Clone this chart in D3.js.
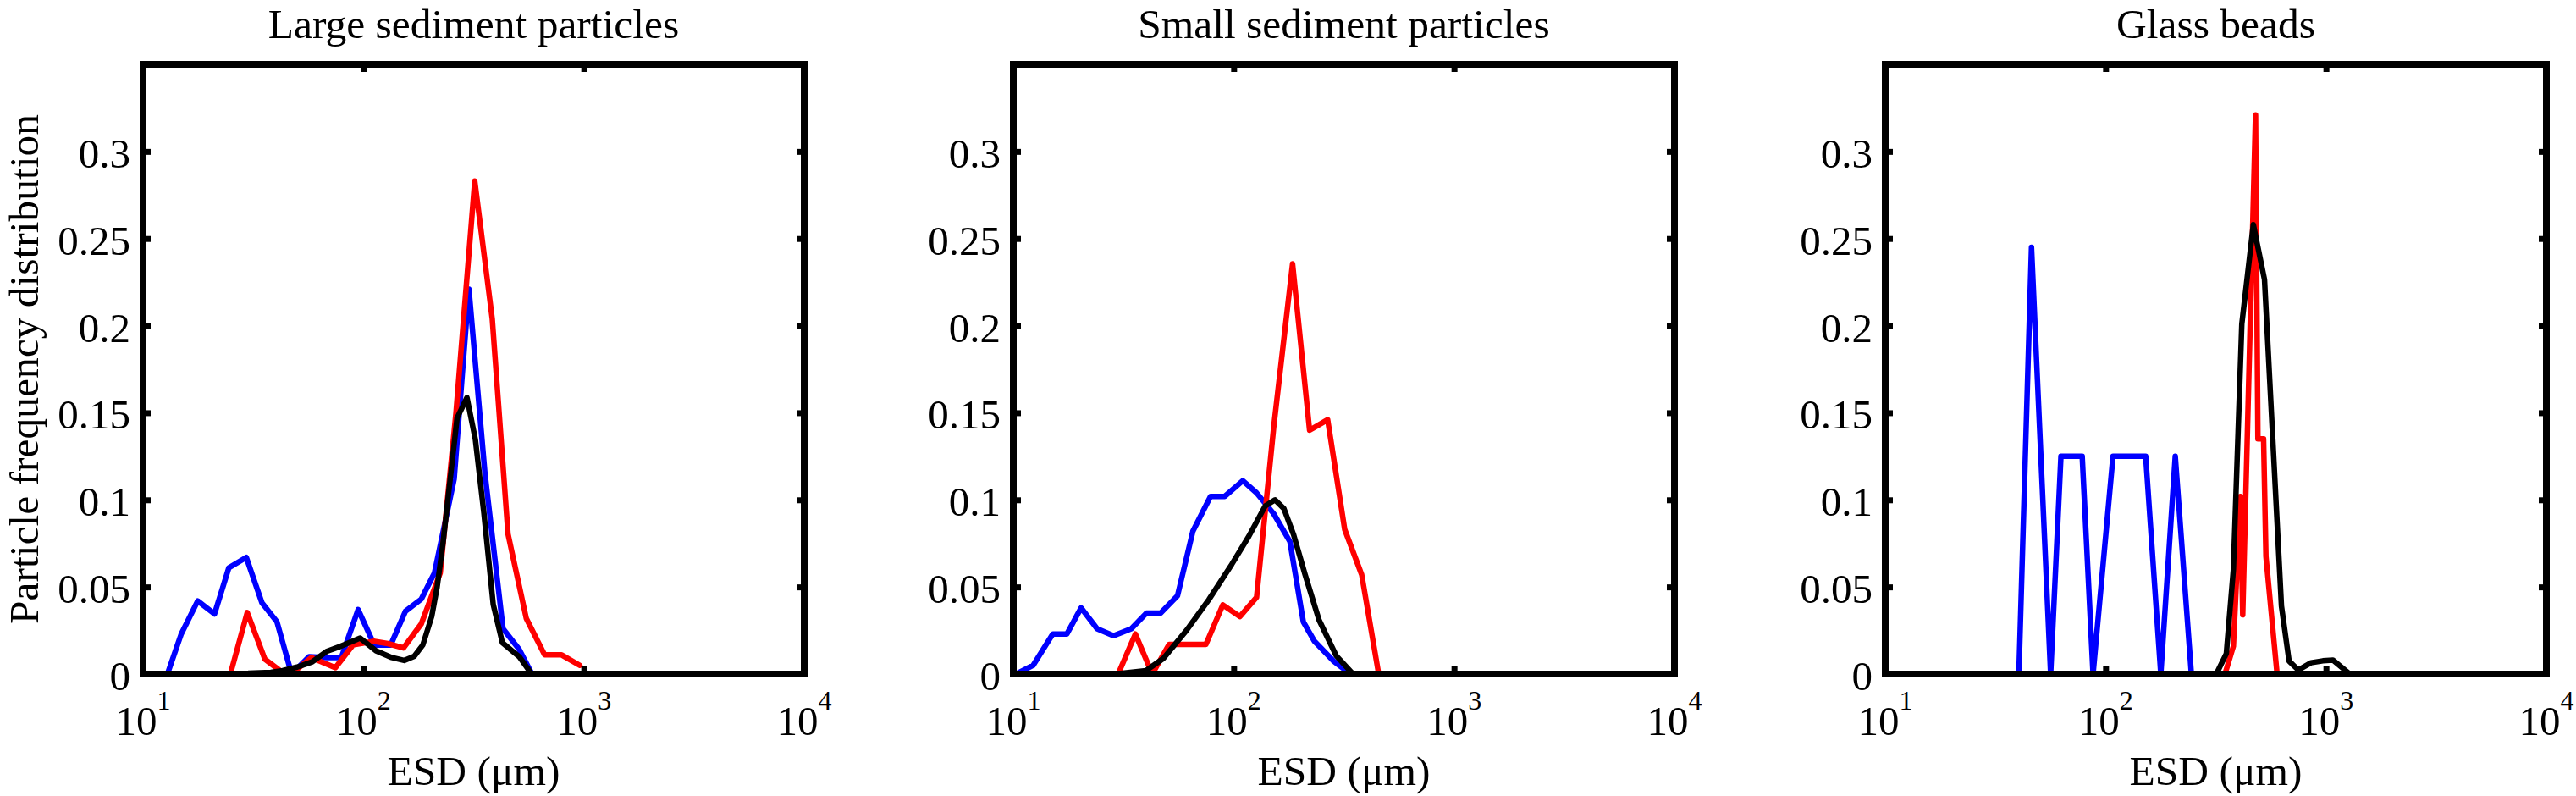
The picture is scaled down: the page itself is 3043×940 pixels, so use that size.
<!DOCTYPE html>
<html>
<head>
<meta charset="utf-8">
<script src="https://cdn.jsdelivr.net/npm/d3@7"></script>
<style>
  html, body { margin: 0; padding: 0; background: #fff; }
  svg { display: block; }
</style>
</head>
<body>
<svg id="chart" width="3043" height="940" font-family="'Liberation Serif', 'DejaVu Serif', serif"></svg>
<script>
// ---------- data (ESD in µm, particle frequency) ----------
const panelTitles = ["Large sediment particles", "Small sediment particles", "Glass beads"];
const xTicks = [10, 100, 1000, 10000];
const xTickBase = "10";
const xTickExponents = ["1", "2", "3", "4"];
const yTicks = [0, 0.05, 0.1, 0.15, 0.2, 0.25, 0.3];
const yTickLabels = ["0", "0.05", "0.1", "0.15", "0.2", "0.25", "0.3"];
const xLabel = "ESD (\u03bcm)";
const yLabel = "Particle frequency distribution";
const seriesColors = ["#0000ff", "#ff0000", "#000000"];

const largeBlue = [[12.9,0],[14.9,0.023],[17.7,0.042],[21.1,0.0345],[24.5,0.061],[29.4,0.067],[34.6,0.041],[40.5,0.030],[47.2,0],[56.7,0.010],[67.6,0.0095],[79.4,0.0095],[94.6,0.037],[112,0.0167],[133,0.0167],[155,0.036],[183,0.043],[210,0.058],[258,0.112],[301,0.221],[356,0.115],[430,0.026],[508,0.0143],[582,0]];
const largeRed = [[24.9,0],[29.7,0.0353],[35.7,0.0086],[41.8,0.002],[47,0],[58,0.0095],[74.6,0.0037],[89.6,0.0167],[111,0.0188],[129,0.0175],[152,0.015],[183,0.0288],[223,0.058],[263,0.15],[320,0.283],[384,0.204],[453,0.0803],[548,0.032],[664,0.011],[793,0.011],[959,0.005]];
const largeBlack = [[10,0],[30,0.0005],[38,0.001],[43,0.002],[50,0.004],[58.5,0.007],[68,0.013],[79,0.016],[96.6,0.0207],[114,0.0134],[133,0.0097],[153,0.0078],[170,0.0102],[186,0.0167],[204,0.033],[216,0.05],[230,0.076],[244,0.105],[266,0.147],[295,0.1587],[322,0.1346],[352,0.0924],[388,0.040],[427,0.018],[509,0.010],[580,0]];

const smallBlue = [[10.3,0],[12.3,0.005],[15.1,0.023],[17.5,0.023],[20.3,0.038],[24,0.026],[28.5,0.022],[34.3,0.026],[40.2,0.035],[46.6,0.035],[55.6,0.045],[65.3,0.082],[78.5,0.102],[91,0.102],[110,0.111],[127,0.104],[152,0.092],[180,0.076],[207,0.030],[232,0.019],[283,0.0076],[339,0]];
const smallRed = [[29.9,0],[35.8,0.023],[42.7,0],[50.9,0.017],[60.8,0.017],[74.8,0.017],[89.3,0.0397],[106.7,0.033],[127,0.044],[152,0.142],[185,0.2355],[221,0.140],[267,0.146],[319,0.083],[381,0.057],[455,0]];
const smallBlack = [[10,0],[30,0.0003],[40,0.002],[48,0.009],[61,0.025],[77,0.0426],[98,0.063],[117,0.079],[139,0.0965],[154,0.100],[169,0.095],[187,0.080],[211,0.057],[244,0.031],[292,0.0105],[348,0]];

const glassBlue = [[40.4,0],[46.1,0.245],[56.3,0],[62.7,0.125],[78.3,0.125],[87.7,0],[108,0.125],[128,0.125],[152,0.125],[178,0],[207,0.125],[245,0]];
const glassRed = [[348,0],[380,0.016],[409,0.102],[419,0.034],[479,0.321],[491,0.135],[521,0.135],[534,0.0675],[600,0]];
const glassBlack = [[318,0],[353,0.0117],[380,0.06],[415,0.201],[468,0.258],[526,0.2265],[628,0.039],[680,0.0075],[749,0.0023],[855,0.0065],[968,0.0076],[1076,0.008],[1282,0]];

const panelSeries = [
  [largeBlue, largeRed, largeBlack],
  [smallBlue, smallRed, smallBlack],
  [glassBlue, glassRed, glassBlack]
];

// ---------- layout ----------
const FONT = "'Liberation Serif', 'DejaVu Serif', 'Times New Roman', serif";
const panelLefts = [169, 1197, 2227];
const panelTop = 76;
const W = 781, H = 720;
const fontSize = 49;

const svg = d3.select("#chart");
svg.append("rect").attr("width", 3043).attr("height", 940).attr("fill", "#fff");

const x = d3.scaleLog().domain([10, 10000]).range([0, W]);
const y = d3.scaleLinear().domain([0, 0.35]).range([H, 0]);
const line = d3.line().x(d => x(d[0])).y(d => y(d[1]));

const addText = (g) => g.append("text").attr("font-family", FONT).attr("fill", "#000");

panelTitles.forEach((title, i) => {
  const g = svg.append("g").attr("transform", `translate(${panelLefts[i]},${panelTop})`);

  // data lines
  panelSeries[i].forEach((s, k) => {
    g.append("path")
      .datum(s)
      .attr("d", line)
      .attr("fill", "none")
      .attr("stroke", seriesColors[k])
      .attr("stroke-width", 6.5)
      .attr("stroke-linejoin", "round")
      .attr("stroke-linecap", "round");
  });

  // inward ticks on all four sides
  const tickLen = -9;
  const styleAxis = sel => {
    sel.select(".domain").remove();
    sel.selectAll(".tick line").attr("stroke", "#000").attr("stroke-width", 7);
    sel.selectAll(".tick text").remove();
  };
  g.append("g").attr("transform", `translate(0,${H})`)
    .call(d3.axisBottom(x).tickValues(xTicks).tickSize(tickLen).tickFormat(""))
    .call(styleAxis);
  g.append("g")
    .call(d3.axisTop(x).tickValues(xTicks).tickSize(tickLen).tickFormat(""))
    .call(styleAxis);
  g.append("g")
    .call(d3.axisLeft(y).tickValues(yTicks).tickSize(tickLen).tickFormat(""))
    .call(styleAxis);
  g.append("g").attr("transform", `translate(${W},0)`)
    .call(d3.axisRight(y).tickValues(yTicks).tickSize(tickLen).tickFormat(""))
    .call(styleAxis);

  // frame
  g.append("rect")
    .attr("x", 0).attr("y", 0).attr("width", W).attr("height", H)
    .attr("fill", "none").attr("stroke", "#000").attr("stroke-width", 8);

  // y tick labels
  yTicks.forEach((v, j) => {
    addText(g)
      .attr("x", -15).attr("y", y(v) + 19)
      .attr("text-anchor", "end")
      .attr("font-size", fontSize)
      .text(yTickLabels[j]);
  });

  // x tick labels with superscript exponent
  xTicks.forEach((v, j) => {
    const t = addText(g)
      .attr("x", x(v)).attr("y", H + 72)
      .attr("text-anchor", "middle")
      .attr("font-size", fontSize);
    t.append("tspan").text(xTickBase);
    t.append("tspan").attr("font-size", 32).attr("dy", -30).text(xTickExponents[j]);
  });

  // title
  addText(g)
    .attr("x", W / 2).attr("y", 45 - panelTop)
    .attr("text-anchor", "middle")
    .attr("font-size", 49.5)
    .text(title);

  // x label
  addText(g)
    .attr("x", W / 2).attr("y", 927 - panelTop)
    .attr("text-anchor", "middle")
    .attr("font-size", 49.5)
    .text(xLabel);

  if (i === 0) {
    addText(g)
      .attr("transform", `translate(${45 - panelLefts[0]},${H / 2}) rotate(-90)`)
      .attr("text-anchor", "middle")
      .attr("font-size", 49.5)
      .text(yLabel);
  }
});
</script>
</body>
</html>
